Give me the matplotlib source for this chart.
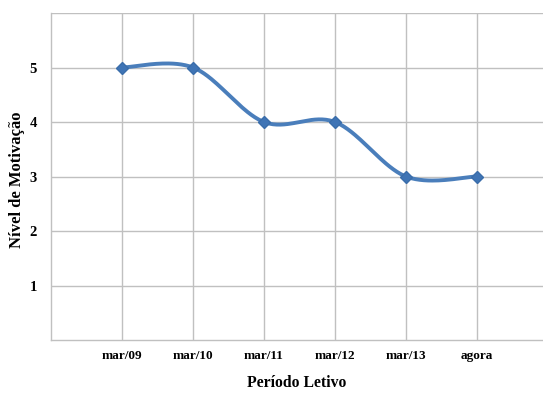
import numpy as np
import matplotlib
matplotlib.use("Agg")
import matplotlib.pyplot as plt

periods = ["mar/09", "mar/10", "mar/11", "mar/12", "mar/13", "agora"]
motivation = [5, 5, 4, 4, 3, 3]
y_ticks = [1, 2, 3, 4, 5]

plt.rcParams["font.family"] = ["Liberation Serif", "DejaVu Serif"]


def smooth_curve(xs, ys, n=40, tension=0.5):
    """Cardinal-spline smoothing through the data points."""
    xs = np.asarray(xs, float)
    ys = np.asarray(ys, float)
    px = np.concatenate([[xs[0]], xs, [xs[-1]]])
    py = np.concatenate([[ys[0]], ys, [ys[-1]]])
    out_x, out_y = [], []
    t = np.linspace(0, 1, n)
    for i in range(1, len(px) - 2):
        p0x, p1x, p2x, p3x = px[i - 1], px[i], px[i + 1], px[i + 2]
        p0y, p1y, p2y, p3y = py[i - 1], py[i], py[i + 1], py[i + 2]
        m1x, m2x = tension * (p2x - p0x), tension * (p3x - p1x)
        m1y, m2y = tension * (p2y - p0y), tension * (p3y - p1y)
        h00 = 2 * t**3 - 3 * t**2 + 1
        h10 = t**3 - 2 * t**2 + t
        h01 = -2 * t**3 + 3 * t**2
        h11 = t**3 - t**2
        out_x.extend(h00 * p1x + h10 * m1x + h01 * p2x + h11 * m2x)
        out_y.extend(h00 * p1y + h10 * m1y + h01 * p2y + h11 * m2y)
    return np.array(out_x), np.array(out_y)


fig = plt.figure(figsize=(5.43, 3.94), dpi=100)
ax = fig.add_axes([0.094, 0.137, 0.906, 0.830])

x = np.arange(1, len(periods) + 1)
sx, sy = smooth_curve(x, motivation)
line_color = "#4A7EBB"
ax.plot(sx, sy, color=line_color, lw=2.8, solid_capstyle="round", zorder=3)
ax.plot(x, motivation, linestyle="none", marker="D", markersize=6.5,
        color="#3F74B5", markeredgecolor="#3A6DAA", zorder=4)

ax.set_xlim(0, 6.93)
ax.set_ylim(0, 6)
ax.set_xticks(x)
ax.set_xticklabels(periods, fontsize=9.5, fontweight="bold")
ax.set_yticks(y_ticks + [6])
ax.set_yticklabels([str(v) for v in y_ticks] + [""], fontsize=10.5, fontweight="bold")
ax.tick_params(axis="x", length=0, pad=7)
ax.tick_params(axis="y", length=0, pad=10)

grid_color = "#C0C0C0"
ax.grid(True, color=grid_color, lw=1.0)
ax.set_axisbelow(True)
for side in ["top", "right"]:
    ax.spines[side].set_visible(False)
for side in ["left", "bottom"]:
    ax.spines[side].set_color(grid_color)
    ax.spines[side].set_linewidth(1.0)

fig.text(0.547, 1 - 383 / 394, "Período Letivo", fontsize=11.3,
         fontweight="bold", ha="center", va="center")
fig.text(17 / 543, 1 - 180 / 394, "Nível de Motivação", fontsize=12,
         fontweight="bold", ha="center", va="center", rotation=90)

fig.savefig("out.png", dpi=100, facecolor="white")
